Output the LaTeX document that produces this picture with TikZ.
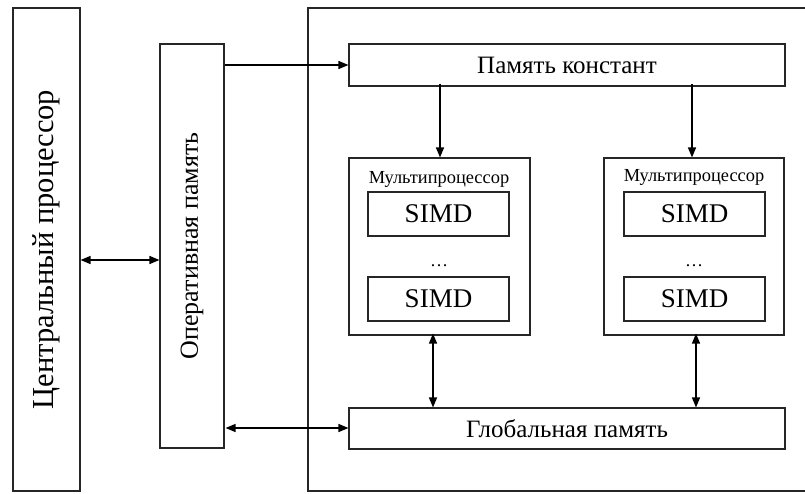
\documentclass[tikz,border=0pt]{standalone}
\usepackage{fontspec}
\setmainfont{Liberation Serif}
\usetikzlibrary{arrows.meta,calc}
\begin{document}
\begin{tikzpicture}[x=1pt,y=-1pt,
  box/.style={draw=black!85,line width=1.1pt,inner sep=0pt,fill=white},
  arr/.style={line width=1.4pt,-{Triangle[length=10pt,width=8pt]}},
  dbl/.style={line width=1.4pt,{Triangle[length=10pt,width=8pt]}-{Triangle[length=10pt,width=8pt]}}]
\useasboundingbox (0,0) rectangle (805,493);
\fill[white] (0,0) rectangle (805,493);
% outer frame of the device
\draw[line width=1.1pt,black!85] (806,8) -- (308,8) -- (308,491) -- (806,491);
\node[box,minimum width=67pt,minimum height=483pt] (cpu) at (46.5,249.5)
  {\rotatebox{90}{\fontsize{30.5}{34}\selectfont Центральный процессор}};
\node[box,minimum width=64pt,minimum height=404pt] (ram) at (192,246)
  {\rotatebox{90}{\fontsize{26}{30}\selectfont Оперативная память}};
\node[box,minimum width=436pt,minimum height=42pt] (const) at (567,65)
  {\fontsize{25}{29}\selectfont Память констант};
\node[box,minimum width=436pt,minimum height=41pt] (glob) at (567,428.5)
  {\fontsize{25}{29}\selectfont Глобальная память};
\node[box,minimum width=181pt,minimum height=177pt] (mpa) at (439.5,246.5) {};
\node[box,minimum width=180pt,minimum height=177pt] (mpb) at (694,246.5) {};
\node (mpalab) at (439,179) {\fontsize{18.4}{21}\selectfont Мультипроцессор};
\node (mpblab) at (694,177) {\fontsize{18.4}{21}\selectfont Мультипроцессор};
\node[box,minimum width=141pt,minimum height=44pt] (sa1) at (438.5,214) {\fontsize{27}{31}\selectfont SIMD};
\node[box,minimum width=141pt,minimum height=44pt] (sa2) at (438.5,299) {\fontsize{27}{31}\selectfont SIMD};
\node[box,minimum width=141pt,minimum height=44pt] (sb1) at (694.5,214) {\fontsize{27}{31}\selectfont SIMD};
\node[box,minimum width=141pt,minimum height=44pt] (sb2) at (694.5,299) {\fontsize{27}{31}\selectfont SIMD};
\node (da) at (439,266) {\fontsize{18}{20}\selectfont\ldots};
\node (db) at (694,266) {\fontsize{18}{20}\selectfont\ldots};
% connectors
\coordinate (c1) at (80,260);
\coordinate (c2) at (300,428);
\draw[dbl] (cpu.east |- c1) -- (ram.west |- c1);
\draw[arr] (ram.east |- const.west) -- (const.west);
\draw[arr] ([yshift=3pt]const.south -| 440,0) -- (mpa.north -| 440,0);
\draw[arr] ([yshift=3pt]const.south -| 692,0) -- (mpb.north -| 692,0);
\draw[dbl] ([yshift=2pt]mpa.south -| 433,0) -- (glob.north -| 433,0);
\draw[dbl] ([yshift=2pt]mpb.south -| 696,0) -- (glob.north -| 696,0);
\draw[dbl] ([xshift=1pt]ram.east |- c2) -- (glob.west |- c2);
\end{tikzpicture}
\end{document}
